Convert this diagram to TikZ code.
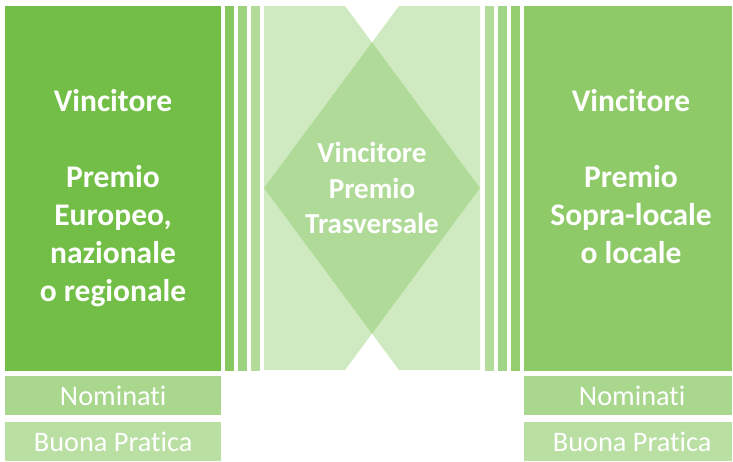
\documentclass[tikz,border=0pt]{standalone}
\usepackage{fontspec}
\setmainfont{Carlito}[Ligatures=NoCommon]
\usetikzlibrary{positioning}

\definecolor{winL}{HTML}{72BE46}
\definecolor{winR}{HTML}{8FCA68}
\definecolor{nomGreen}{HTML}{A9D78E}
\definecolor{goodGreen}{HTML}{B9DFA2}

\begin{document}
\begin{tikzpicture}[x=1pt, y=-1pt,
  wintext/.style={text=white, font=\bfseries\fontsize{31.5}{38}\selectfont, align=center, inner sep=0pt},
  crosstext/.style={text=white, font=\bfseries\fontsize{29}{35.5}\selectfont, align=center, inner sep=0pt},
  subbox/.style={text=white, font=\fontsize{28.3}{34}\selectfont, inner sep=0pt, minimum width=216pt, minimum height=39pt}]

\useasboundingbox (0,0) rectangle (733,461);

% Left winner panel
\fill[winL] (5,6) rectangle (221,371);
\node[wintext, anchor=north] (europeo) at (113,89) {Vincitore\\[38pt]Premio\\Europeo,\\nazionale\\o regionale};

% Right winner panel
\fill[winR] (524,6) rectangle (732,371);
\node[wintext, anchor=north] (locale) at (631,89) {Vincitore\\[38pt]Premio\\Sopra-locale\\o locale};

% Strips next to the panels
\foreach \x/\c in {225/86C760, 238/9DD27E, 251/B3DC9B, 485/B3DC9B, 498/A2D488, 511/94CD6F} {
  \definecolor{stripc}{HTML}{\c}
  \fill[stripc] (\x,6) rectangle (\x+9,371);
}

% Crossing arrows in the middle
\fill[winL, fill opacity=0.34] (264,6) -- (345,6) -- (480,188) -- (345,370) -- (264,370) -- cycle;
\fill[winL, fill opacity=0.34] (480,6) -- (399,6) -- (264,188) -- (399,370) -- (480,370) -- cycle;
\node[crosstext] (trasversale) at (372,188) {Vincitore\\Premio\\Trasversale};

% Lower boxes
\node[subbox, fill=nomGreen, anchor=north west] (nomL) at (5,376) {Nominati};
\node[subbox, fill=goodGreen, anchor=north west] (buonaL) at (5,422) {Buona Pratica};
\node[subbox, fill=nomGreen, anchor=north west, minimum width=208pt] (nomR) at (524,376) {\hspace*{8pt}Nominati};
\node[subbox, fill=goodGreen, anchor=north west, minimum width=208pt] (buonaR) at (524,422) {\hspace*{8pt}Buona Pratica};

\end{tikzpicture}
\end{document}
